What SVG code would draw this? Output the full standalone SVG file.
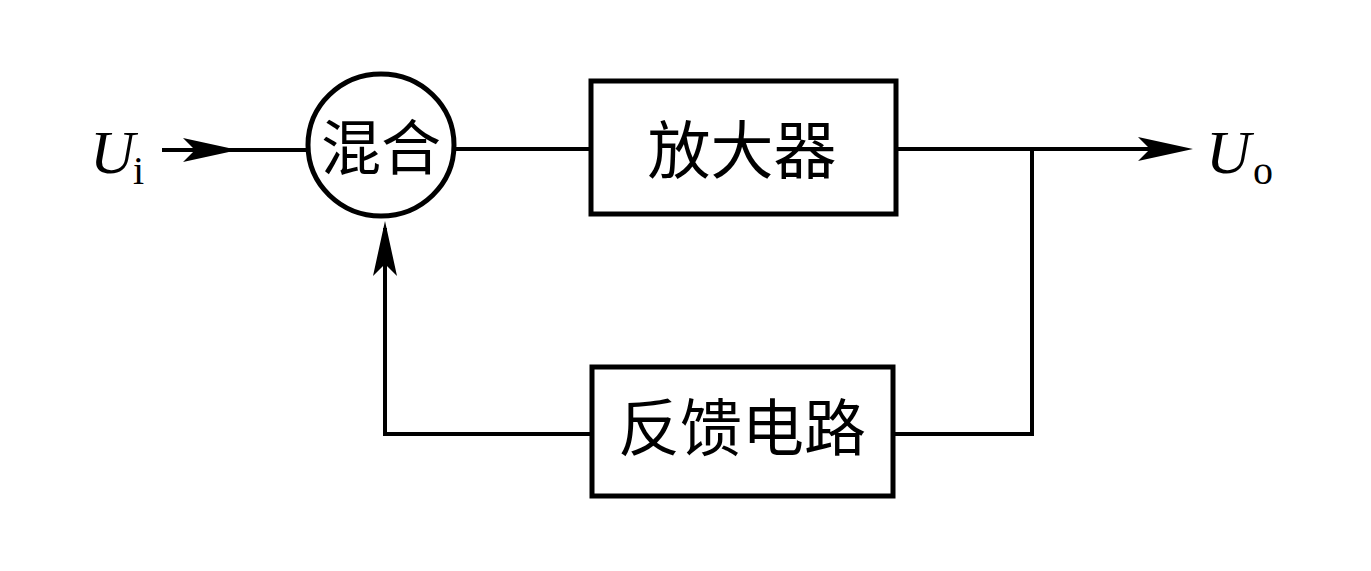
<svg xmlns="http://www.w3.org/2000/svg" width="1371" height="571" viewBox="0 0 1371 571">
<style>
.ln{fill:none;stroke:#000;stroke-width:4;stroke-linecap:square;stroke-linejoin:miter}
.bx{fill:#fff;stroke:#000;stroke-width:5}
.cjk{font-family:"Noto Sans CJK SC","Noto Sans CJK JP",sans-serif;fill:#000;text-anchor:middle}
.var{font-family:"Liberation Serif",serif;font-style:italic;fill:#000}
.sub{font-family:"Liberation Serif",serif;fill:#000}
</style>
<defs>
<path id="ah" d="M0,0 L-55,-12 L-43,0 L-55,12 Z" fill="#000"/>
</defs>
<rect width="1371" height="571" fill="#fff"/>
<g id="connectors">
<path class="ln" d="M164,150 H306"/>
<use href="#ah" transform="translate(238,150)"/>
<path class="ln" d="M456,149 H590"/>
<path class="ln" d="M897,149 H1180"/>
<use href="#ah" transform="translate(1193,149)"/>
<path class="ln" d="M1032,149 V434 H894"/>
<path class="ln" d="M592,434 H385 V230"/>
<use href="#ah" transform="translate(385,221) rotate(-90)"/>
</g>
<g id="mixer">
<ellipse cx="381" cy="145" rx="73" ry="71" fill="#fff" stroke="#000" stroke-width="5"/>
<text class="cjk" x="381" y="170" font-size="60">混合</text>
</g>
<g id="amplifier">
<rect class="bx" x="591" y="81" width="305" height="133"/>
<text class="cjk" x="742" y="173" font-size="63">放大器</text>
</g>
<g id="feedback">
<rect class="bx" x="592" y="367" width="301" height="129"/>
<text class="cjk" x="742" y="451" font-size="62">反馈电路</text>
</g>
<g id="input-label">
<text class="var" x="90" y="173" font-size="62">U</text>
<text class="sub" x="133" y="184" font-size="40">i</text>
</g>
<g id="output-label">
<text class="var" x="1206" y="173" font-size="62">U</text>
<text class="sub" x="1253" y="184" font-size="40">o</text>
</g>
</svg>
